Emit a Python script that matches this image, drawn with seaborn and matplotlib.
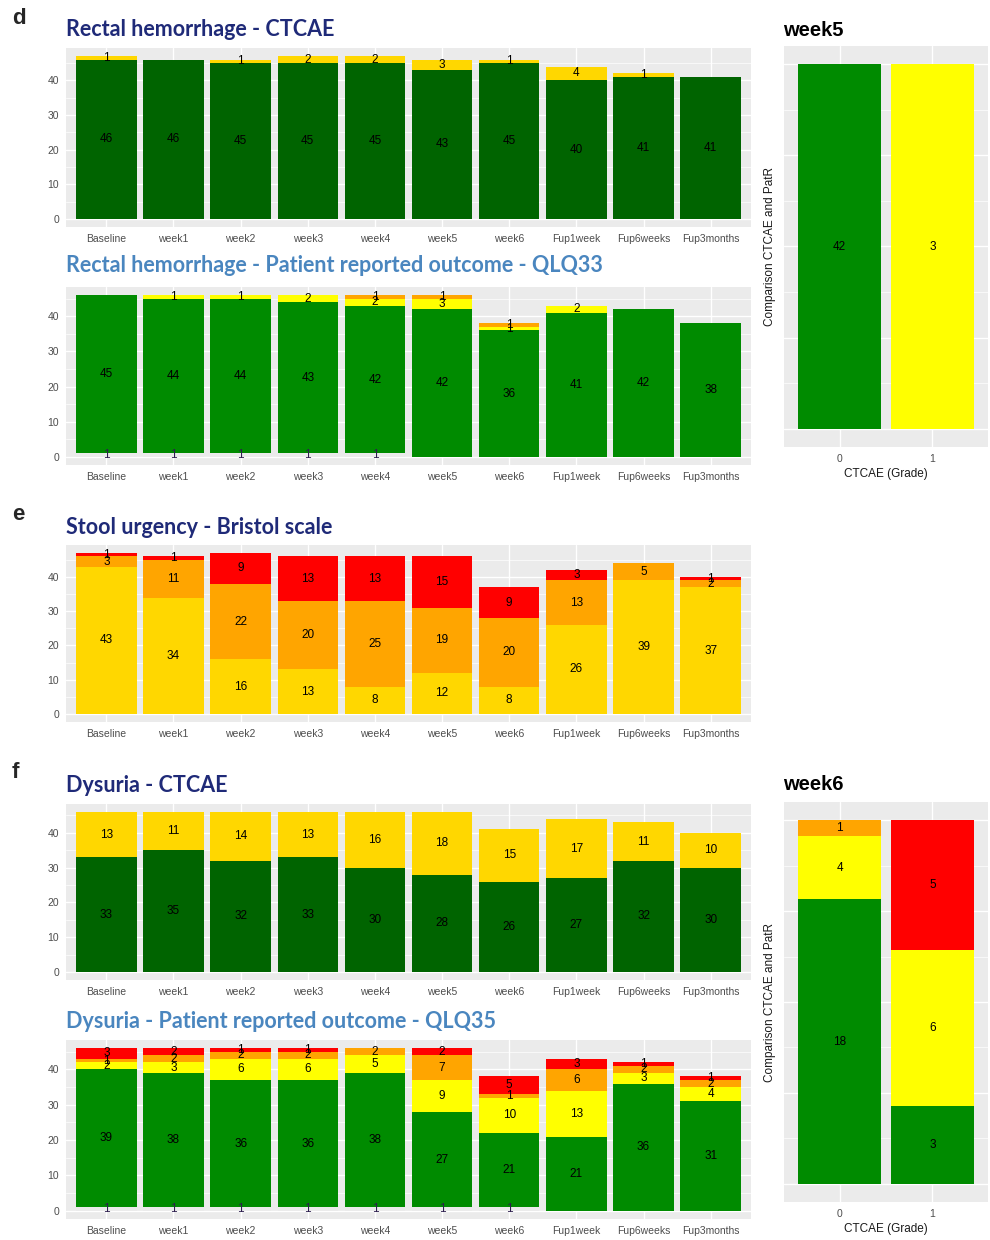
import numpy as np
import pandas as pd
import matplotlib.pyplot as plt
import seaborn as sns

# x categories of the time course panels
timepoints = ['Baseline', 'week1', 'week2', 'week3', 'week4', 'week5', 'week6',
              'Fup1week', 'Fup6weeks', 'Fup3months']

# d - rectal hemorrhage, CTCAE grades
rh_ctcae_g0 = [46, 46, 45, 45, 45, 43, 45, 40, 41, 41]
rh_ctcae_g1 = [1, 0, 1, 2, 2, 3, 1, 4, 1, 0]

# d - rectal hemorrhage, patient reported (QLQ33)
rh_pro_na = [1, 1, 1, 1, 1, 0, 0, 0, 0, 0]
rh_pro_g0 = [45, 44, 44, 43, 42, 42, 36, 41, 42, 38]
rh_pro_g1 = [0, 1, 1, 2, 2, 3, 1, 2, 0, 0]
rh_pro_g2 = [0, 0, 0, 0, 1, 1, 1, 0, 0, 0]

# e - stool urgency, Bristol scale
su_g1 = [43, 34, 16, 13, 8, 12, 8, 26, 39, 37]
su_g2 = [3, 11, 22, 20, 25, 19, 20, 13, 5, 2]
su_g3 = [1, 1, 9, 13, 13, 15, 9, 3, 0, 1]

# f - dysuria, CTCAE grades
dy_ctcae_g0 = [33, 35, 32, 33, 30, 28, 26, 27, 32, 30]
dy_ctcae_g1 = [13, 11, 14, 13, 16, 18, 15, 17, 11, 10]

# f - dysuria, patient reported (QLQ35)
dy_pro_na = [1, 1, 1, 1, 1, 1, 1, 0, 0, 0]
dy_pro_g0 = [39, 38, 36, 36, 38, 27, 21, 21, 36, 31]
dy_pro_g1 = [2, 3, 6, 6, 5, 9, 10, 13, 3, 4]
dy_pro_g2 = [1, 2, 2, 2, 2, 7, 1, 6, 2, 2]
dy_pro_g3 = [3, 2, 1, 1, 0, 2, 5, 3, 1, 1]

# comparison panels: CTCAE grade on x, patient reported grade stacked
ctcae_grades = ['0', '1']
wk5_pro_g0 = [42, 0]
wk5_pro_g1 = [0, 3]
wk6_pro_g0 = [18, 3]
wk6_pro_g1 = [4, 6]
wk6_pro_g2 = [1, 0]
wk6_pro_g3 = [0, 5]

PANEL_BG = '#EBEBEB'
ctcae_colors = {'0': '#006400', '1': '#FFD700'}
pro_colors = {'NA': PANEL_BG, '0': '#008B00', '1': '#FFFF00', '2': '#FFA500', '3': '#FF0000'}
bristol_colors = {'1': '#FFD700', '2': '#FFA500', '3': '#FF0000'}

sns.set_theme(style='darkgrid')
plt.rcParams['font.family'] = ['Liberation Sans', 'DejaVu Sans']


def long_table(x, layers):
    # layers are given bottom to top as (level, counts)
    rows = []
    for level, counts in layers:
        for xi, n in zip(x, counts):
            rows.append({'x': xi, 'level': level, 'n': n})
    return pd.DataFrame(rows)


def stacked_bars(ax, x, layers, palette, fill=False):
    df = long_table(x, layers)
    order = [lvl for lvl, _ in layers]
    sns.histplot(data=df, x='x', hue='level', weights='n', hue_order=order[::-1],
                 multiple='fill' if fill else 'stack', discrete=True, shrink=0.9,
                 palette=palette, alpha=1, linewidth=0, legend=False, ax=ax)

    # counts in the middle of each segment
    tab = df.pivot(index='x', columns='level', values='n').reindex(index=x, columns=order)
    tops = tab.cumsum(axis=1)
    mids = tops - tab / 2
    if fill:
        mids = mids.div(tab.sum(axis=1), axis=0)
    for i, xi in enumerate(x):
        for lvl in order:
            v = tab.loc[xi, lvl]
            if v > 0:
                col = '#2e1f4f' if lvl == 'NA' else 'black'
                ax.text(i, mids.loc[xi, lvl], str(v), ha='center', va='center',
                        fontsize=8.5, color=col)
    return tab.sum(axis=1).max()


def style_axes(ax, ymax=None, fill=False, n=10):
    ax.set_facecolor(PANEL_BG)
    for s in ax.spines.values():
        s.set_visible(False)
    ax.set_xlabel('')
    ax.set_ylabel('')
    ax.set_xlim(-0.6, n - 0.4)
    if fill:
        ax.set_ylim(-0.05, 1.05)
        ax.set_yticks([0, 0.25, 0.5, 0.75, 1], labels=[])
        ax.set_yticks([0.125, 0.375, 0.625, 0.875], minor=True)
    else:
        ax.set_ylim(-0.05 * ymax, 1.05 * ymax)
        ax.set_yticks([0, 10, 20, 30, 40])
        ax.set_yticks([5, 15, 25, 35, 45], minor=True)
    ax.set_xticks(range(n))
    ax.grid(which='major', color='white', lw=1.0)
    ax.grid(which='minor', axis='y', color='white', lw=0.5)
    ax.set_axisbelow(True)
    ax.tick_params(which='major', length=3, width=0.6, color='#333333',
                   labelsize=7.5, labelcolor='#4D4D4D', pad=2)
    ax.tick_params(which='minor', length=0)


fig = plt.figure(figsize=(9.9, 12.4), dpi=100)
W, H = 990, 1240


def add_axes(x0, y0, x1, y1):
    return fig.add_axes([x0 / W, 1 - y1 / H, (x1 - x0) / W, (y1 - y0) / H])


panels = [
    (48, 227, [('0', rh_ctcae_g0), ('1', rh_ctcae_g1)], ctcae_colors,
     'Rectal hemorrhage - CTCAE', '#1F2A78', 30),
    (287, 465, [('NA', rh_pro_na), ('0', rh_pro_g0), ('1', rh_pro_g1), ('2', rh_pro_g2)], pro_colors,
     'Rectal hemorrhage - Patient reported outcome - QLQ33', '#4A86BF', 266),
    (545, 722, [('1', su_g1), ('2', su_g2), ('3', su_g3)], bristol_colors,
     'Stool urgency - Bristol scale', '#1F2A78', 527),
    (804, 980, [('0', dy_ctcae_g0), ('1', dy_ctcae_g1)], ctcae_colors,
     'Dysuria - CTCAE', '#1F2A78', 785),
    (1040, 1219, [('NA', dy_pro_na), ('0', dy_pro_g0), ('1', dy_pro_g1), ('2', dy_pro_g2),
                  ('3', dy_pro_g3)], pro_colors,
     'Dysuria - Patient reported outcome - QLQ35', '#4A86BF', 1021),
]

for top, bottom, layers, pal, title, tcol, ty in panels:
    ax = add_axes(66, top, 751, bottom)
    ymax = stacked_bars(ax, timepoints, layers, pal)
    style_axes(ax, ymax=ymax)
    ax.set_xticklabels(timepoints)
    fig.text(66 / W, 1 - ty / H, title, fontsize=15.5, fontweight='bold', color=tcol,
             family=['Lato', 'DejaVu Sans'], ha='left', va='center')

# comparison panels
comparisons = [
    (46, 447, [('0', wk5_pro_g0), ('1', wk5_pro_g1)], 'week5', 30),
    (802, 1202, [('0', wk6_pro_g0), ('1', wk6_pro_g1), ('2', wk6_pro_g2), ('3', wk6_pro_g3)], 'week6', 784),
]
for top, bottom, layers, title, ty in comparisons:
    ax = add_axes(784, top, 988, bottom)
    stacked_bars(ax, ctcae_grades, layers, pro_colors, fill=True)
    style_axes(ax, fill=True, n=2)
    ax.set_xticklabels(ctcae_grades)
    ax.set_xlabel('CTCAE (Grade)', fontsize=8.5, color='#1a1a1a', labelpad=3)
    ax.set_ylabel('Comparison CTCAE and PatR', fontsize=8.5, color='#1a1a1a', labelpad=1)
    fig.text(783 / W, 1 - ty / H, title, fontsize=14.5, fontweight='bold', color='black',
             ha='left', va='center')

for letter, y in [('d', 18), ('e', 515), ('f', 772)]:
    fig.text(12 / W, 1 - y / H, letter, fontsize=16, fontweight='bold', ha='left', va='center')

fig.savefig('out.png', dpi=100)
